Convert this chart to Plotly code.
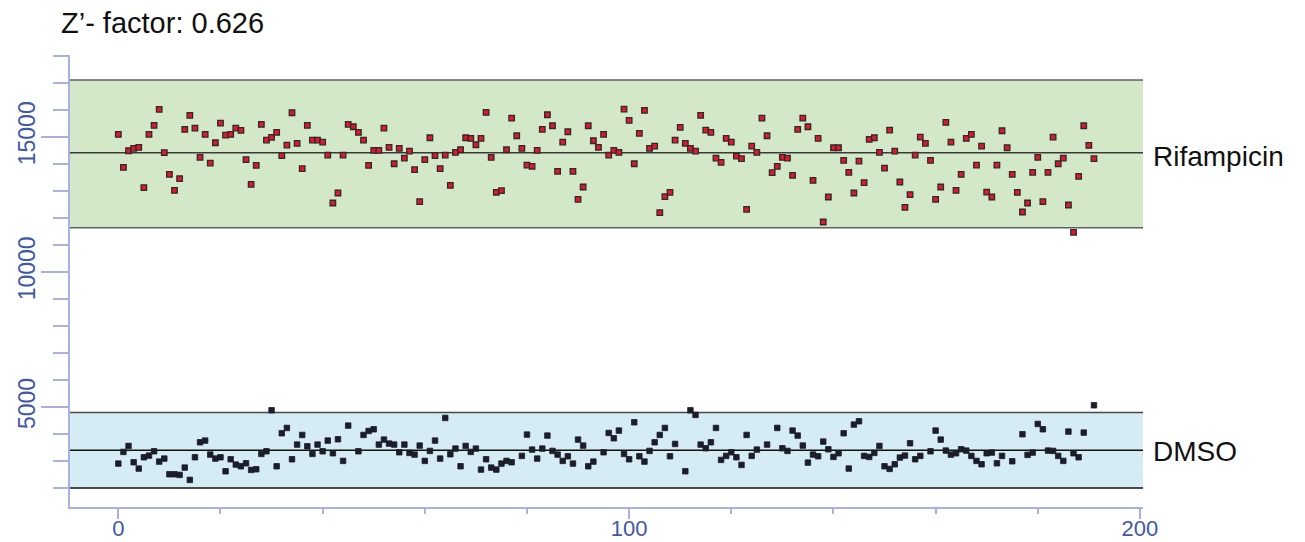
import plotly.graph_objects as go

# Plate well index for each control well
well_index = list(range(192))

# Positive control (Rifampicin) signal per well
rifampicin = [
    15087, 13866, 14482, 14569, 14606, 13114, 15087, 15420, 16011, 14409,
    13607, 13015, 13447, 15272, 15790, 15321, 14236, 15087, 14026, 14778,
    15506, 15062, 15087, 15321, 15235, 14150, 13237, 13940, 15457, 14877,
    14976, 15161, 14298, 14692, 15888, 14754, 13817, 15420, 14877, 14877,
    14803, 14322, 12547, 12917, 14322, 15457, 15370, 15161, 14877, 13940,
    14495, 14495, 15321, 14606, 14001, 14569, 14211, 14470, 13780, 12596,
    14150, 14963, 14298, 13817, 14322, 13200, 14421, 14519, 14963, 14939,
    14704, 14939, 15900, 14236, 12941, 13003, 14519, 15691, 15037, 14569,
    13952, 13903, 14495, 15272, 15814, 15407, 13718, 14803, 15185, 13718,
    12682, 13139, 15407, 14852, 14606, 15087, 14322, 14495, 14421, 16024,
    15605, 14001, 15124, 15974, 14569, 14655, 12189, 12781, 12941, 14877,
    15346, 14754, 14569, 14470, 15790, 15247, 15161, 14211, 14051, 14939,
    14803, 14285, 14187, 12313, 14655, 14421, 15691, 15037, 13669, 13903,
    14236, 14211, 13570, 15272, 15691, 15370, 13385, 14939, 11844, 12769,
    14593, 14593, 14125, 13681, 12917, 14100, 13299, 14902, 14963, 14421,
    13841, 15247, 14470, 13324, 12386, 12855, 14322, 14988, 14754, 14125,
    12682, 13139, 15531, 14803, 13015, 13607, 14939, 15087, 13952, 14655,
    12953, 12769, 13952, 15222, 14593, 13607, 12941, 12214, 12547, 13681,
    14236, 12596, 13681, 14988, 14001, 14211, 12473, 11462, 13533, 15407,
    14680, 14187,
]

# Negative control (DMSO) signal per well; None = no reading
dmso = [
    2904, 3336, 3557, 2953, 2719, 3138, 3200, 3360, 2978, 3089,
    2509, 2509, 2485, 2756, 2300, 3138, 3693, 3755, 3237, 3089,
    3138, 2620, 3064, 2867, 2805, 2916, 2670, 2694, 3261, 3360,
    4877, 2805, 4026, 4223, 3064, 3607, 3964, 3545, 3261, 3607,
    3360, 3755, 3286, 3804, 3003, 4310, None, 3360, 3964, 4112,
    4174, 3607, 3792, 3644, 3607, 3323, 3607, 3298, 3237, 3570,
    3003, 3372, 3755, 3089, 4593, 3249, 3459, 2805, 3557, 3336,
    3459, 2682, 3064, 2756, 2682, 2904, 3003, 2953, None, 3188,
    3977, 3422, 3089, 3459, 3940, 3372, 3237, 3003, 3175, 2904,
    3792, 3570, 2805, 2978, None, 3323, 4038, 3841, 4125, 3261,
    3064, 4433, 3175, 2978, 3372, 3693, 3964, 4223, 3175, 3631,
    None, 2620, 4877, 4704, 3607, 3471, 3693, 4223, 3040, 3188,
    3323, 3138, 2855, 3964, 3188, 3422, None, 3607, None, 4223,
    3471, 3372, 4125, 3940, 3570, 2941, 3237, 3175, 3718, 3434,
    3151, 3286, 4026, 2719, 4347, 4470, 3188, 3151, 3299, 3557,
    2805, 2707, 2879, 3126, 3200, 3656, 3064, 3188, None, 3360,
    4125, 3792, 3385, 3237, 3286, 3434, 3385, 3188, 3003, 2879,
    3286, 3311, 2916, 3188, None, 2990, None, 3989, 3225, 3311,
    4371, 4174, 3385, 3373, 3188, 3003, 4088, 3286, 3138, 4051,
    None, 5062,
]

# Control summary lines: mean and the +/- 3 SD window
rif_mean, rif_low, rif_high = 14407, 11630, 17100
dmso_mean, dmso_low, dmso_high = 3396, 2000, 4790
z_factor = 0.626

axis_color = "#a9b1e2"
tick_font_color = "#3f58a8"
font_family = "Liberation Sans, Arial, sans-serif"

fig = go.Figure()

fig.add_trace(go.Scatter(
    x=well_index, y=dmso, mode="markers", name="DMSO",
    marker=dict(symbol="square", size=5.5, color="#1b1d2b",
                line=dict(width=0.8, color="#1b1d2b")),
    showlegend=False,
))
fig.add_trace(go.Scatter(
    x=well_index, y=rifampicin, mode="markers", name="Rifampicin",
    marker=dict(symbol="square", size=5.5, color="#e3162a",
                line=dict(width=1.3, color="#2b2b2b")),
    showlegend=False,
))

shapes = []
# Shaded acceptance windows
shapes.append(dict(type="rect", xref="paper", yref="y", x0=0, x1=1,
                   y0=rif_low, y1=rif_high, fillcolor="#d3e8c9",
                   line=dict(width=0), layer="below"))
shapes.append(dict(type="rect", xref="paper", yref="y", x0=0, x1=1,
                   y0=dmso_low, y1=dmso_high, fillcolor="#d5ecf5",
                   line=dict(width=0), layer="below"))
# Window borders and means
for yv, col in [(rif_high, "#5f6360"), (rif_low, "#5f6360"), (rif_mean, "#3a3a3a"),
                (dmso_high, "#4a4a4a"), (dmso_low, "#111111"), (dmso_mean, "#111111")]:
    shapes.append(dict(type="line", xref="paper", yref="y", x0=0, x1=1,
                       y0=yv, y1=yv, line=dict(width=1.5, color=col), layer="below"))

annotations = [
    dict(text=f"Z’- factor: {z_factor}", xref="paper", yref="paper",
         x=-0.0105, y=1.071, xanchor="left", yanchor="middle", showarrow=False,
         font=dict(family=font_family, size=29, color="#111111")),
    dict(text="Rifampicin", xref="paper", yref="y", x=1.0075, y=rif_mean - 120,
         xanchor="left", yanchor="middle", showarrow=False,
         font=dict(family=font_family, size=28, color="#111111")),
    dict(text="DMSO", xref="paper", yref="y", x=1.0075, y=dmso_mean - 40,
         xanchor="left", yanchor="middle", showarrow=False,
         font=dict(family=font_family, size=28, color="#111111")),
]

fig.update_layout(
    width=1305, height=542,
    margin=dict(l=70, r=162, t=55, b=35, autoexpand=False),
    paper_bgcolor="white", plot_bgcolor="white",
    shapes=shapes, annotations=annotations,
    font=dict(family=font_family),
    xaxis=dict(
        range=[-9.46, 200.6], showgrid=False, zeroline=False, automargin=False,
        showline=True, linecolor=axis_color, linewidth=1.5,
        ticks="outside", tick0=0, dtick=100, ticklen=10, tickwidth=1.5,
        tickcolor=axis_color,
        minor=dict(dtick=20, tick0=0, ticks="outside", ticklen=5,
                   tickwidth=1.5, tickcolor=axis_color, showgrid=False),
        tickfont=dict(size=22, color=tick_font_color, family=font_family),
        ticklabelstandoff=-9,
    ),
    yaxis=dict(
        range=[1297, 18025], showgrid=False, zeroline=False, automargin=False,
        showline=True, linecolor=axis_color, linewidth=1.5,
        ticks="outside", tick0=0, dtick=5000, ticklen=27, tickwidth=1.5,
        tickcolor=axis_color, tickangle=-90, tickformat="d",
        minor=dict(dtick=1000, tick0=0, ticks="outside", ticklen=15,
                   tickwidth=1.5, tickcolor=axis_color, showgrid=False),
        tickfont=dict(size=23, color=tick_font_color, family=font_family),
        ticklabelstandoff=-3,
    ),
)

fig.write_html("out.html")
